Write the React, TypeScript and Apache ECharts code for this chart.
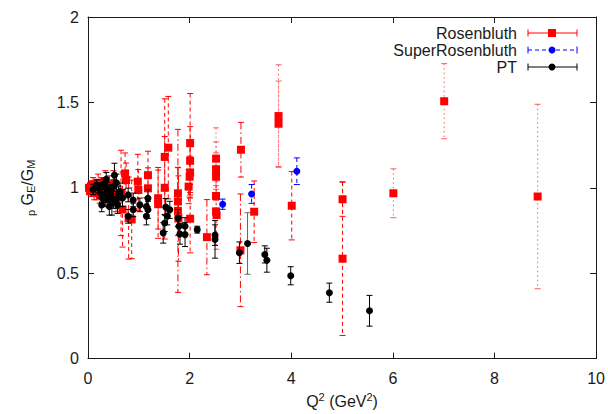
import React, { useEffect, useRef } from "react";
import * as echarts from "echarts";

// Rosenbluth data, grouped by error-bar style: [Q2, ratio, error]
const rbLowQ: number[][] = [
  [0.02, 1.0, 0.03], [0.04, 0.98, 0.03], [0.06, 1.01, 0.03], [0.08, 0.99, 0.04],
  [0.1, 1.02, 0.04], [0.12, 0.97, 0.04], [0.14, 1.0, 0.04], [0.17, 0.98, 0.05],
  [0.2, 1.03, 0.05], [0.23, 0.96, 0.05], [0.26, 1.01, 0.05], [0.3, 0.99, 0.06],
  [0.34, 1.04, 0.06], [0.38, 0.95, 0.06], [0.42, 1.0, 0.07], [0.46, 0.97, 0.07],
  [0.5, 1.02, 0.08], [0.55, 0.94, 0.08],
];
const rbDashed: number[][] = [
  [0.65, 0.97, 0.25], [0.68, 0.873, 0.22], [0.73, 1.084, 0.12], [0.75, 1.045, 0.1],
  [0.8, 0.823, 0.24], [0.86, 0.815, 0.23], [0.98, 1.036, 0.16], [0.99, 0.987, 0.12],
  [1.18, 1.074, 0.14], [1.18, 0.997, 0.12], [1.38, 0.939, 0.18], [1.38, 0.904, 0.2],
  [1.51, 1.181, 0.34], [1.51, 1.0, 0.3], [1.58, 1.235, 0.3], [2.01, 1.262, 0.29],
  [2.01, 1.158, 0.2], [2.01, 1.09, 0.15], [2.0, 1.065, 0.12], [1.98, 1.007, 0.1],
  [2.01, 0.819, 0.2], [3.27, 0.86, 0.18], [4.01, 0.895, 0.2], [5.01, 0.933, 0.1],
  [5.01, 0.585, 0.45],
];
const rbDashDot: number[][] = [
  [1.77, 0.968, 0.15], [1.77, 0.92, 0.2], [1.77, 0.865, 0.477], [1.78, 0.82, 0.25],
  [2.34, 0.711, 0.22], [3.0, 0.634, 0.33], [3.01, 1.223, 0.16],
];
const rbDotted: number[][] = [
  [2.52, 1.171, 0.18], [2.52, 1.109, 0.16], [2.52, 1.065, 0.14], [2.52, 0.952, 0.12],
  [2.52, 0.862, 0.15], [2.53, 0.84, 0.2], [3.75, 1.42, 0.3], [3.75, 1.375, 0.25],
  [6.01, 0.968, 0.143], [7.01, 1.507, 0.22], [8.85, 0.949, 0.54],
];
const superRosenbluth: number[][] = [
  [2.65, 0.904, 0.03], [3.22, 0.964, 0.055], [4.11, 1.097, 0.078],
];
const ptData: number[][] = [
  [0.1, 0.99, 0.03], [0.17, 1.016, 0.03], [0.2, 1.0, 0.03], [0.24, 0.97, 0.03],
  [0.27, 0.9, 0.04], [0.28, 0.94, 0.04], [0.3, 1.02, 0.03], [0.33, 0.958, 0.04],
  [0.35, 0.93, 0.04], [0.36, 1.05, 0.04], [0.38, 0.99, 0.04], [0.4, 0.939, 0.05],
  [0.42, 0.89, 0.05], [0.43, 0.978, 0.04], [0.45, 0.95, 0.05], [0.47, 0.91, 0.07],
  [0.5, 1.007, 0.04], [0.5, 0.93, 0.05], [0.52, 1.074, 0.07], [0.55, 0.93, 0.05],
  [0.56, 1.03, 0.05], [0.58, 0.9, 0.05], [0.6, 0.96, 0.05], [0.63, 0.978, 0.05],
  [0.68, 0.94, 0.05],
  [0.79, 0.958, 0.04], [0.79, 0.833, 0.04], [0.89, 0.929, 0.04], [0.89, 0.871, 0.04],
  [1.02, 0.9, 0.04], [1.15, 0.891, 0.05], [1.18, 0.939, 0.05], [1.18, 0.871, 0.05],
  [1.15, 0.833, 0.05], [1.48, 0.736, 0.06], [1.51, 0.794, 0.05], [1.53, 0.887, 0.05],
  [1.56, 0.833, 0.05], [1.61, 0.871, 0.05], [1.77, 0.823, 0.05], [1.79, 0.775, 0.05],
  [1.81, 0.73, 0.06], [1.91, 0.775, 0.05], [1.91, 0.726, 0.07], [2.15, 0.755, 0.02],
  [2.5, 0.723, 0.06], [2.5, 0.698, 0.11], [2.98, 0.62, 0.063], [3.48, 0.61, 0.05],
  [3.52, 0.576, 0.07], [3.99, 0.485, 0.053], [4.75, 0.386, 0.056], [5.54, 0.28, 0.09],
];
const ptWide: number[][] = [[3.14, 0.674, 0.18]];

const xTicks = { min: 0, max: 10, interval: 2 };
const yTicks = { min: 0, max: 2, interval: 0.5 };

const FONT = "'Liberation Sans', Arial, Helvetica, sans-serif";
const INK = "#1a1a1a";

function errBars(name: string, data: number[][], color: string, dash: number[] | null, z: number) {
  return {
    type: "custom",
    name,
    data,
    z,
    clip: true,
    encode: { x: 0, y: 1 },
    renderItem: (_p: any, api: any) => {
      const x = api.value(0), y = api.value(1), e = api.value(2);
      const t = api.coord([x, y + e]);
      const b = api.coord([x, y - e]);
      const hw = 3;
      const lw = 1;
      return {
        type: "group",
        children: [
          { type: "line", shape: { x1: t[0], y1: t[1], x2: b[0], y2: b[1] }, style: { stroke: color, lineWidth: lw, lineDash: dash || undefined } },
          { type: "line", shape: { x1: t[0] - hw, y1: t[1], x2: t[0] + hw, y2: t[1] }, style: { stroke: color, lineWidth: lw } },
          { type: "line", shape: { x1: b[0] - hw, y1: b[1], x2: b[0] + hw, y2: b[1] }, style: { stroke: color, lineWidth: lw } },
        ],
      };
    },
  };
}

function points(name: string, data: number[][], color: string, symbol: string, size: number, z: number) {
  return {
    type: "scatter",
    name,
    data: data.map((d) => [d[0], d[1]]),
    symbol,
    symbolSize: size,
    itemStyle: { color, opacity: 1 },
    z,
  };
}

function legendRow(label: string, y: number, color: string, dash: number[] | null, marker: "rect" | "circle") {
  const x1 = 528, x2 = 577, mx = 552;
  const els: any[] = [
    { type: "text", x: 517, y, style: { text: label, font: `16px ${FONT}`, fill: INK, align: "right", verticalAlign: "middle" } },
    { type: "line", shape: { x1, y1: y, x2, y2: y }, style: { stroke: color, lineWidth: 1, lineDash: dash || undefined } },
    { type: "line", shape: { x1, y1: y - 3.5, x2: x1, y2: y + 3.5 }, style: { stroke: color, lineWidth: 1 } },
    { type: "line", shape: { x1: x2, y1: y - 3.5, x2, y2: y + 3.5 }, style: { stroke: color, lineWidth: 1 } },
  ];
  if (marker === "rect") {
    els.push({ type: "rect", shape: { x: mx - 4, y: y - 4, width: 8, height: 8 }, style: { fill: color } });
  } else {
    els.push({ type: "circle", shape: { cx: mx, cy: y, r: 3.5 }, style: { fill: color } });
  }
  return els;
}

export default function App() {
  const ref = useRef<HTMLDivElement>(null);
  useEffect(() => {
    if (!ref.current) return;
    const chart = echarts.init(ref.current, undefined, { renderer: "svg" });
    const axisLine = { show: true, onZero: false, lineStyle: { color: INK, width: 1 } };
    const tick = { show: true, inside: true, length: 6, lineStyle: { color: INK, width: 1 } };
    const label = { color: INK, fontSize: 16, fontFamily: FONT };
    const red = "#ff0000", blue = "#0000ff", black = "#000000";
    chart.setOption({
      animation: false,
      backgroundColor: "#ffffff",
      grid: { left: 88, right: 11, top: 17, bottom: 52, containLabel: false },
      xAxis: [
        {
          type: "value", ...xTicks, position: "bottom",
          axisLine, axisTick: tick, splitLine: { show: false },
          axisLabel: { ...label, margin: 12, formatter: (v: number) => String(v) },
          name: "Q{sup|2} (GeV{sup|2})", nameLocation: "middle", nameGap: 31,
          nameTextStyle: { color: INK, fontSize: 16, fontFamily: FONT, rich: { sup: { fontSize: 11, verticalAlign: "top", padding: [0, 0, 8, 0], fontFamily: FONT, color: INK } } },
        },
        {
          type: "value", ...xTicks, position: "top",
          axisLine, axisTick: tick, splitLine: { show: false }, axisLabel: { show: false },
        },
      ],
      yAxis: [
        {
          type: "value", ...yTicks, position: "left",
          axisLine, axisTick: tick, splitLine: { show: false },
          axisLabel: { ...label, margin: 9, formatter: (v: number) => String(v) },
          name: "{sub|p} G{sub|E}/G{sub|M}", nameLocation: "middle", nameGap: 52, nameRotate: 90,
          nameTextStyle: { color: INK, fontSize: 16, fontFamily: FONT, rich: { sub: { fontSize: 11, verticalAlign: "bottom", padding: [6, 0, 0, 0], fontFamily: FONT, color: INK } } },
        },
        {
          type: "value", ...yTicks, position: "right",
          axisLine, axisTick: tick, splitLine: { show: false }, axisLabel: { show: false },
        },
      ],
      series: [
        errBars("Rosenbluth", rbLowQ, red, [3, 2], 2),
        errBars("Rosenbluth", rbDashed, red, [4, 3], 2),
        errBars("Rosenbluth", rbDashDot, red, [7, 3, 1.5, 3], 2),
        errBars("Rosenbluth", rbDotted, "rgba(255,40,40,0.75)", [1.5, 3], 2),
        points("Rosenbluth", [...rbLowQ, ...rbDashed, ...rbDashDot, ...rbDotted], red, "rect", 8, 3),
        errBars("SuperRosenbluth", superRosenbluth, blue, [4, 3], 4),
        points("SuperRosenbluth", superRosenbluth, blue, "circle", 7, 5),
        errBars("PT", ptData, black, null, 6),
        errBars("PT", ptWide, "#666666", null, 6),
        points("PT", [...ptData, ...ptWide], black, "circle", 7, 7),
      ],
      graphic: [
        ...legendRow("Rosenbluth", 33, red, null, "rect"),
        ...legendRow("SuperRosenbluth", 50, blue, [4, 3], "circle"),
        ...legendRow("PT", 67, black, null, "circle"),
      ],
    });
    return () => chart.dispose();
  }, []);
  return <div ref={ref} style={{ width: 608, height: 414, position: "absolute", left: 0, top: 0 }} />;
}
